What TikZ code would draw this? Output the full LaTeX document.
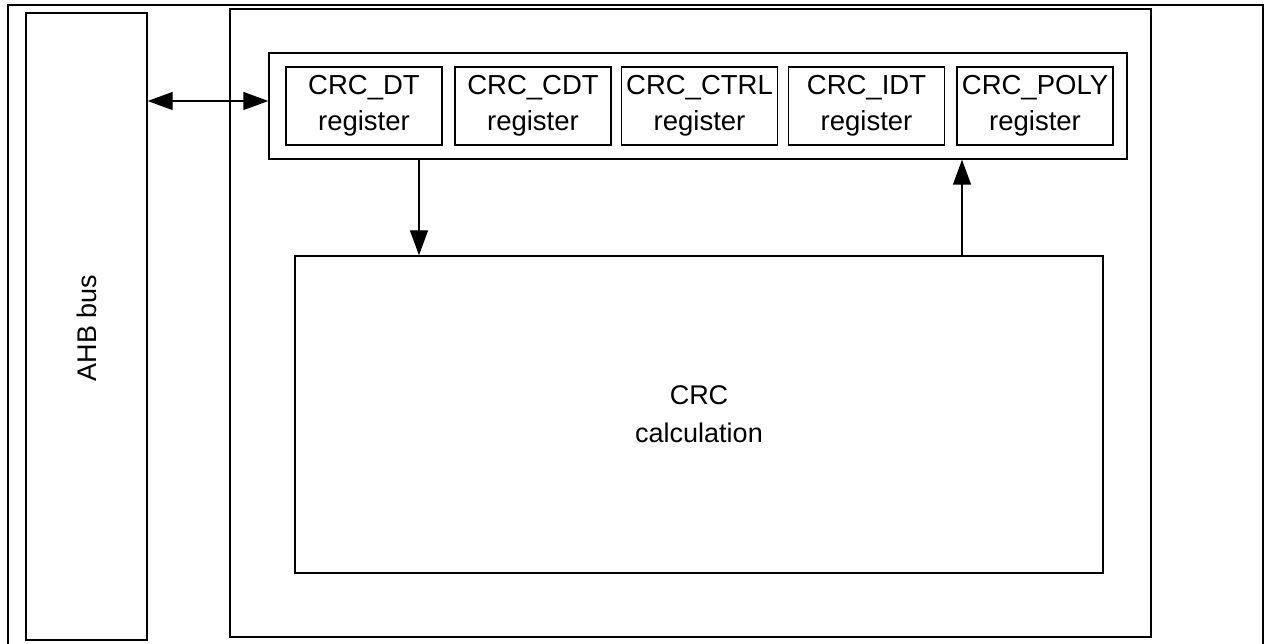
\documentclass[tikz,border=0pt]{standalone}
\usepackage{fontspec}
\setmainfont{Liberation Sans}
\usetikzlibrary{arrows.meta}

\tikzset{
  blk/.style={draw, line width=1.4pt, inner sep=0pt, align=center,
    font=\fontsize{27.5}{36}\selectfont},
  reg/.style={blk, minimum width=156pt, minimum height=78pt},
  tip/.tip={Triangle[length=25pt,width=18pt]},
  arr/.style={line width=1.4pt, -tip},
  darr/.style={line width=1.4pt, tip-tip},
}

\begin{document}
\begin{tikzpicture}[x=1pt, y=-1pt]
    \useasboundingbox (0,0) rectangle (1266,644);
    \draw[line width=2pt] (8,668) -- (8,5) -- (1263,5) -- (1263,668);

    \node[blk, minimum width=121pt, minimum height=627pt] (ahb) at (86.5,326.5) {};
    \node[rotate=90, font=\fontsize{27}{34}\selectfont] (ahbtxt) at (87,328) {AHB bus};

    \node[blk, minimum width=921pt, minimum height=628pt] (crc) at (690.5,323) {};
    \node[blk, minimum width=858pt, minimum height=106pt] (regs) at (698,106) {};

    \node[reg] (DT)   at (364,106)   {CRC\_DT\\register};
    \node[reg] (CDT)  at (533,106)   {CRC\_CDT\\register};
    \node[reg] (CTRL) at (699.5,106) {CRC\_CTRL\\register};
    \node[reg] (IDT)  at (866.5,106) {CRC\_IDT\\register};
    \node[reg] (POLY) at (1035,106)  {CRC\_POLY\\register};

    \node[blk, minimum width=808pt, minimum height=317pt,
      font=\fontsize{27}{38}\selectfont] (calc) at (699,414.5) {CRC\\calculation};

    \draw[darr] (ahb.east |- 0,101) -- (regs.west |- 0,101);
    \draw[arr] (regs.south -| 419,0) -- (calc.north -| 419,0);
    \draw[arr] (calc.north -| 962,0) -- (regs.south -| 962,0);
\end{tikzpicture}
\end{document}
